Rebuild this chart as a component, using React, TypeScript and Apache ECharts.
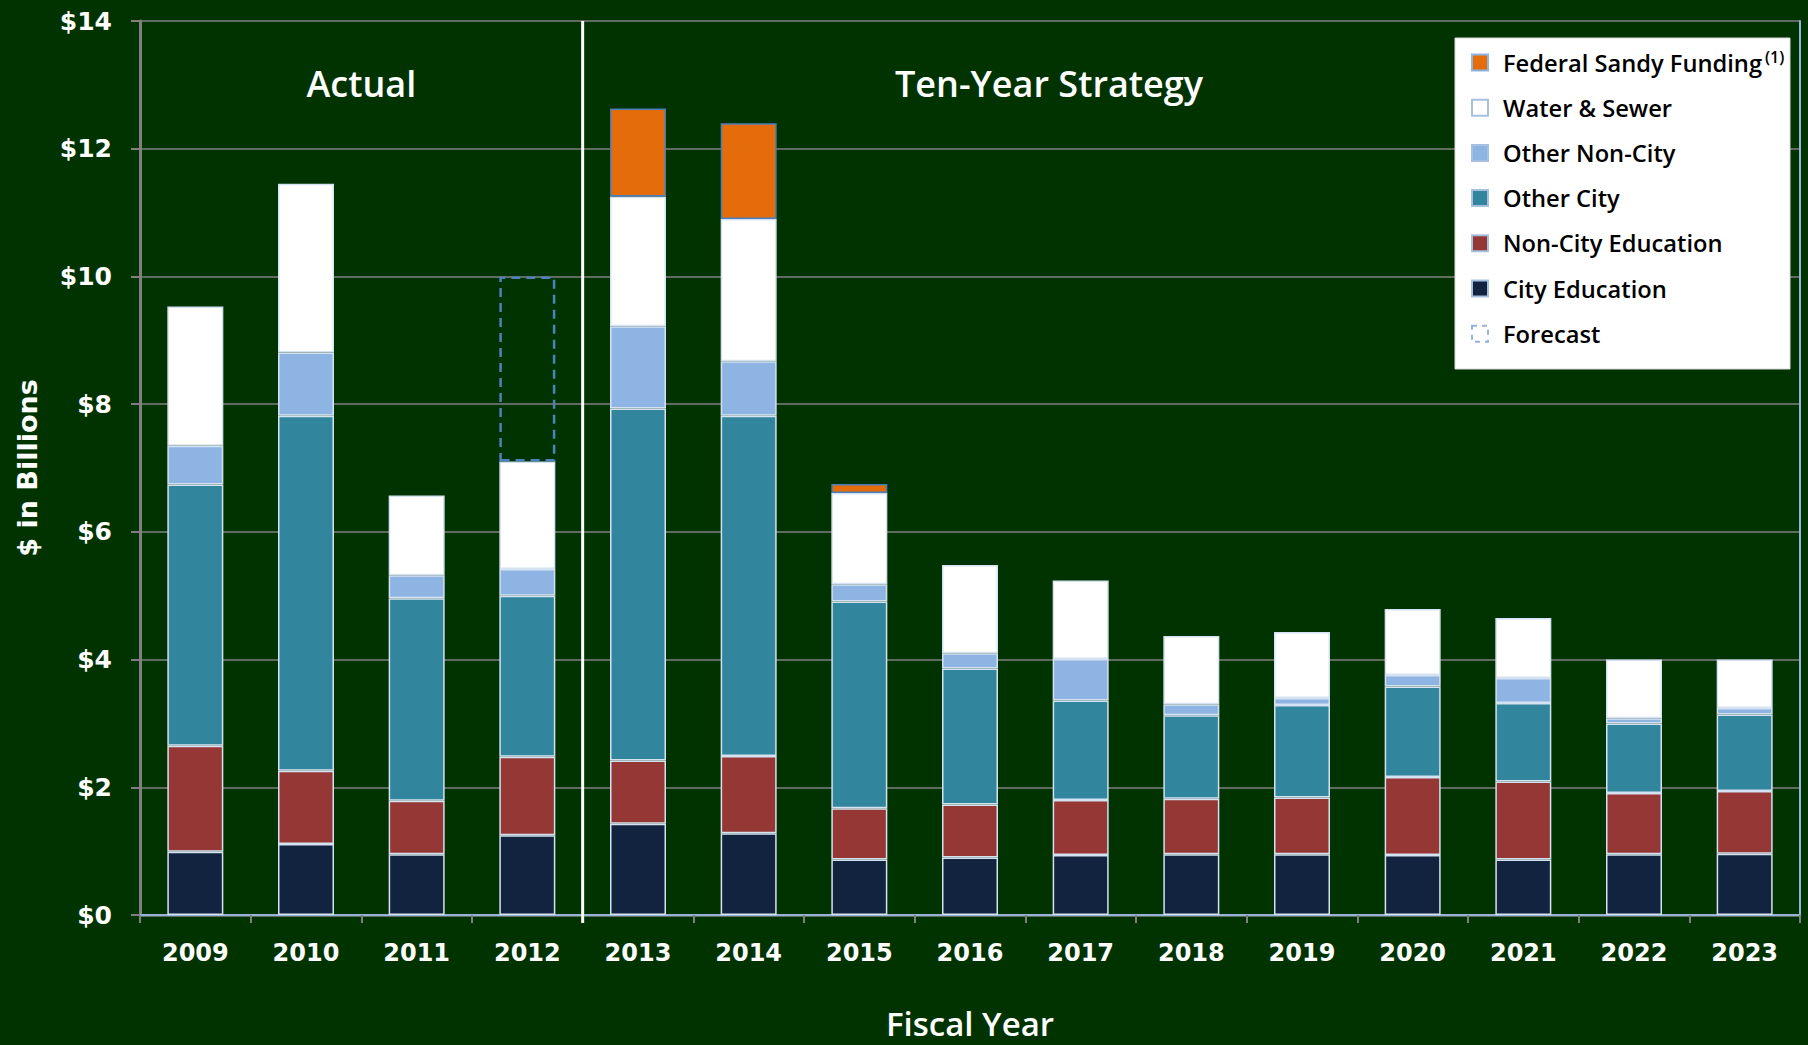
import React, { useEffect, useRef } from "react";
import * as echarts from "echarts";

const years = ["2009", "2010", "2011", "2012", "2013", "2014", "2015", "2016", "2017", "2018", "2019", "2020", "2021", "2022", "2023"];
const cityEducation = [0.99, 1.11, 0.95, 1.25, 1.43, 1.28, 0.87, 0.9, 0.94, 0.95, 0.95, 0.94, 0.87, 0.95, 0.96];
const nonCityEducation = [1.66, 1.15, 0.84, 1.23, 0.99, 1.21, 0.8, 0.83, 0.86, 0.87, 0.89, 1.22, 1.22, 0.96, 0.98];
const otherCity = [4.09, 5.56, 3.17, 2.52, 5.51, 5.33, 3.24, 2.13, 1.56, 1.31, 1.45, 1.42, 1.23, 1.09, 1.2];
const otherNonCity = [0.61, 0.99, 0.36, 0.42, 1.29, 0.85, 0.27, 0.24, 0.65, 0.17, 0.11, 0.18, 0.39, 0.08, 0.1];
const waterSewer = [2.18, 2.64, 1.25, 1.68, 2.03, 2.23, 1.43, 1.38, 1.23, 1.07, 1.03, 1.03, 0.94, 0.92, 0.76];
const sandyFunding = [null, null, null, null, 1.38, 1.5, 0.14, null, null, null, null, null, null, null, null];
const forecast = [null, null, null, 2.9, null, null, null, null, null, null, null, null, null, null, null];

const seriesNames = ["City Education", "Non-City Education", "Other City", "Other Non-City", "Water & Sewer", "Federal Sandy Funding", "Forecast"];
const seriesColors = ["#12233f", "#953735", "#31859c", "#8eb4e3", "#ffffff", "#e46c0a", "transparent"];
const legendOrder = [5, 4, 3, 2, 1, 0, 6];
const sectionTitles = ["Actual", "Ten-Year Strategy"];
const yTicks = [0, 2, 4, 6, 8, 10, 12, 14];

const BG = "#003300";
const GRID_GREY = "#808080";
const EDGE_BLUE = "#95b3d7";
const TICK_FONT = "DejaVu Sans";
const TITLE_FONT = "Open Sans";

export default function App() {
  const ref = useRef<HTMLDivElement>(null);
  useEffect(() => {
    const chart = echarts.init(ref.current!, null, { renderer: "svg" });
    const dataSets = [cityEducation, nonCityEducation, otherCity, otherNonCity, waterSewer, sandyFunding, forecast];
    const series = dataSets.map((d, i) => {
      const isSandy = i === 5;
      const isForecast = i === 6;
      return {
        name: seriesNames[i],
        type: "bar",
        stack: "total",
        barWidth: 56,
        data: d,
        itemStyle: {
          color: seriesColors[i],
          borderColor: isForecast ? "#4f81bd" : isSandy ? "#4a7ebb" : "#d5e2f2",
          borderWidth: isForecast ? 2.5 : 1.5,
          borderType: isForecast ? [9, 6] : "solid",
        },
      };
    });
    chart.setOption({
      animation: false,
      backgroundColor: BG,
      grid: { left: 140, right: 8, top: 21, bottom: 125 },
      xAxis: [
        {
          type: "category",
          data: years,
          boundaryGap: true,
          axisLine: { lineStyle: { color: GRID_GREY, width: 2.5 } },
          axisTick: { show: true, length: 8, lineStyle: { color: GRID_GREY, width: 2 } },
          axisLabel: { color: "#ffffff", fontFamily: TICK_FONT, fontWeight: "bold", fontSize: 24, margin: 26 },
          name: "Fiscal Year",
          nameLocation: "middle",
          nameGap: 92,
          nameTextStyle: { color: "#ffffff", fontFamily: TITLE_FONT, fontWeight: 600, fontSize: 33 },
        },
        {
          type: "category",
          data: years,
          position: "top",
          axisLine: { show: true, lineStyle: { color: EDGE_BLUE, width: 2 } },
          axisTick: { show: false },
          axisLabel: { show: false },
          splitLine: { show: false },
        },
      ],
      yAxis: [
        {
          type: "value",
          min: yTicks[0],
          max: yTicks[yTicks.length - 1],
          interval: 2,
          axisLine: { show: true, lineStyle: { color: GRID_GREY, width: 3 } },
          axisTick: { show: true, length: 9, lineStyle: { color: GRID_GREY, width: 2 } },
          axisLabel: {
            color: "#ffffff",
            fontFamily: TICK_FONT,
            fontWeight: "bold",
            fontSize: 25,
            margin: 28,
            formatter: (v: number) => "$" + v,
          },
          splitLine: { show: true, lineStyle: { color: GRID_GREY, width: 1.5 } },
          name: "$ in Billions",
          nameLocation: "middle",
          nameGap: 99,
          nameTextStyle: { color: "#ffffff", fontFamily: TICK_FONT, fontWeight: "bold", fontSize: 27 },
        },
        {
          type: "value",
          position: "right",
          min: yTicks[0],
          max: yTicks[yTicks.length - 1],
          interval: 2,
          axisLine: { show: true, lineStyle: { color: EDGE_BLUE, width: 2 } },
          axisTick: { show: false },
          axisLabel: { show: false },
          splitLine: { show: false },
        },
      ],
      series,
    });

    const x3 = chart.convertToPixel({ xAxisIndex: 0 }, years[3]) as number;
    const x4 = chart.convertToPixel({ xAxisIndex: 0 }, years[4]) as number;
    const divX = (x3 + x4) / 2;
    const yTop = chart.convertToPixel({ yAxisIndex: 0 }, 14) as number;
    const yBot = chart.convertToPixel({ yAxisIndex: 0 }, 0) as number;
    const gridLeft = 140;

    const legendLeft = 1455;
    const legendTop = 38;
    const rowStart = 62.5;
    const rowStep = 45.2;
    const graphics: any[] = [
      {
        type: "line",
        shape: { x1: divX, y1: yTop, x2: divX, y2: yBot + 8 },
        style: { stroke: "#ffffff", lineWidth: 3 },
        z: 100,
      },
      {
        type: "text",
        x: (gridLeft + divX) / 2,
        y: 83,
        style: { text: sectionTitles[0], fill: "#ffffff", font: `600 36px "${TITLE_FONT}"`, align: "center", verticalAlign: "middle" },
        z: 100,
      },
      {
        type: "text",
        x: 1049,
        y: 83,
        style: { text: sectionTitles[1], fill: "#ffffff", font: `600 36px "${TITLE_FONT}"`, align: "center", verticalAlign: "middle" },
        z: 100,
      },
      {
        type: "rect",
        shape: { x: legendLeft, y: legendTop, width: 335, height: 331 },
        style: { fill: "#ffffff", stroke: "#d9d9d9", lineWidth: 1 },
        z: 100,
      },
    ];
    legendOrder.forEach((si, row) => {
      const yc = rowStart + row * rowStep;
      const isForecast = si === 6;
      graphics.push({
        type: "rect",
        shape: { x: 1472, y: yc - 8, width: 16, height: 16 },
        style: {
          fill: isForecast ? "transparent" : seriesColors[si],
          stroke: isForecast ? "#95b3d7" : si === 5 ? "#8eb4e3" : "#a6c0e0",
          lineWidth: 2,
          lineDash: isForecast ? [5, 5] : null,
        },
        z: 101,
      });
      graphics.push({
        type: "text",
        x: 1503,
        y: yc,
        style: { text: seriesNames[si], fill: "#000000", font: `600 23.7px "${TITLE_FONT}"`, align: "left", verticalAlign: "middle" },
        z: 101,
      });
      if (si === 5) {
        graphics.push({
          type: "text",
          x: 1765,
          y: yc - 6,
          style: { text: "(1)", fill: "#000000", font: `600 16px "${TITLE_FONT}"`, align: "left", verticalAlign: "middle" },
          z: 101,
        });
      }
    });
    chart.setOption({ graphic: graphics });
    return () => chart.dispose();
  }, []);
  return <div ref={ref} style={{ position: "fixed", left: 0, top: 0, width: 1808, height: 1045 }} />;
}
